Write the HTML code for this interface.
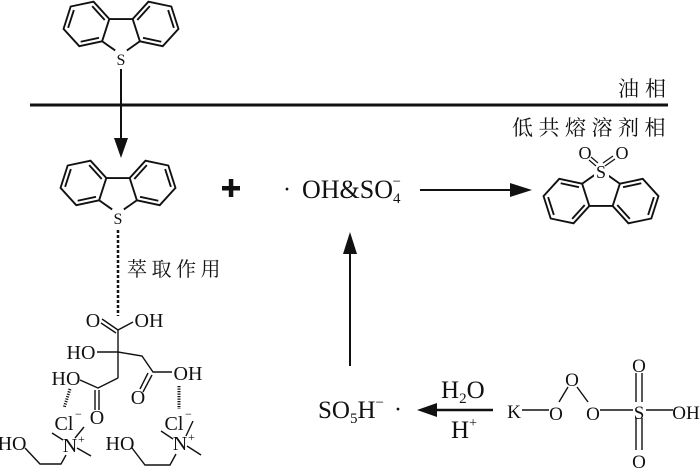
<!DOCTYPE html>
<html><head><meta charset="utf-8"><style>
html,body{margin:0;padding:0;background:#fff;}
svg{display:block;}
.t{font-family:"Liberation Serif",serif;fill:#111;}
.c{font-family:"Noto Serif CJK SC","Noto Sans CJK SC",serif;fill:#111;}
</style></head><body>
<svg width="700" height="469" viewBox="0 0 700 469" xmlns="http://www.w3.org/2000/svg">
<defs>
<g id="dbt" fill="none" stroke="#111" stroke-width="1.45">
  <polyline points="-14.55,-10.57 -4.5,-3.5"/>
  <polyline points="14.55,-10.57 4.5,-3.5"/>
  <line x1="-9" y1="-27.68" x2="9" y2="-27.68"/>
  <polygon points="-9,-27.67 -14.53,-10.55 -32.1,-6.8 -44.2,-20.1 -38.7,-37.3 -21.1,-41"/>
  <line x1="-16.94" y1="-13.22" x2="-31.02" y2="-10.2"/>
  <line x1="-40.68" y1="-20.88" x2="-36.26" y2="-34.58"/>
  <line x1="-22.18" y1="-37.6" x2="-12.52" y2="-26.92"/>
  <polygon points="9,-27.67 14.53,-10.55 32.1,-6.8 44.2,-20.1 38.7,-37.3 21.1,-41"/>
  <line x1="16.94" y1="-13.22" x2="31.02" y2="-10.2"/>
  <line x1="40.68" y1="-20.88" x2="36.26" y2="-34.58"/>
  <line x1="22.18" y1="-37.6" x2="12.52" y2="-26.92"/>
</g>
</defs>

<g transform="translate(121,55) scale(1.3)"><use href="#dbt"/></g>
<text class="t" x="121" y="65" font-size="16" text-anchor="middle">S</text>

<line x1="30" y1="105" x2="668" y2="105" stroke="#111" stroke-width="3"/>
<text class="c" x="618" y="96" font-size="21" letter-spacing="6">油相</text>
<text class="c" x="512" y="135" font-size="21" letter-spacing="5.5">低共熔溶剂相</text>

<line x1="121" y1="69" x2="121" y2="142" stroke="#111" stroke-width="2"/>
<polygon points="114,138 128,138 121,158" fill="#111"/>

<g transform="translate(118,214) scale(1.3)"><use href="#dbt"/></g>
<text class="t" x="118" y="224" font-size="16" text-anchor="middle">S</text>

<line x1="118" y1="230" x2="118" y2="316" stroke="#111" stroke-width="2.5" stroke-dasharray="3,2"/>
<text class="c" x="127" y="276" font-size="20" letter-spacing="4.5">萃取作用</text>

<rect x="222" y="186" width="18" height="4.5" fill="#111"/>
<rect x="228.8" y="179" width="4.5" height="18" fill="#111"/>

<text class="t" x="283" y="197" font-size="24">·</text>
<text class="t" x="302" y="198" font-size="26">OH&amp;SO<tspan font-size="15" dy="5">4</tspan><tspan font-size="15" dx="-8" dy="-17">−</tspan></text>
<line x1="420" y1="190" x2="515" y2="190" stroke="#111" stroke-width="2"/>
<polygon points="510,183 532,190 510,197" fill="#111"/>

<g transform="translate(601,170) scale(1.3,-1.3)"><use href="#dbt"/></g>
<rect x="594" y="162" width="15" height="17" fill="#fff"/>
<text class="t" x="601" y="178" font-size="18" text-anchor="middle">S</text>
<text class="t" x="585" y="159" font-size="18" text-anchor="middle">O</text>
<text class="t" x="622" y="159" font-size="18" text-anchor="middle">O</text>
<g stroke="#111" stroke-width="1.2">
<line x1="589" y1="160" x2="596" y2="166"/>
<line x1="591" y1="157" x2="598" y2="163"/>
<line x1="605" y1="166" x2="615" y2="159"/>
<line x1="603" y1="163" x2="613" y2="156"/>
</g>

<line x1="350" y1="366" x2="350" y2="250" stroke="#111" stroke-width="2"/>
<polygon points="343,254 357,254 350,232" fill="#111"/>

<text class="t" x="318" y="418" font-size="25">SO<tspan font-size="15" dy="5">5</tspan><tspan dy="-5">H</tspan><tspan font-size="15" dy="-11">−</tspan></text>
<text class="t" x="394" y="417" font-size="24">·</text>
<line x1="493" y1="410" x2="432" y2="410" stroke="#111" stroke-width="2.5"/>
<polygon points="437,403 417,410 437,417" fill="#111"/>
<text class="t" x="441" y="398" font-size="25">H<tspan font-size="15" dy="5">2</tspan><tspan dy="-5">O</tspan></text>
<text class="t" x="451" y="438" font-size="25">H<tspan font-size="14" dy="-11">+</tspan></text>

<g class="t" font-size="19" text-anchor="middle">
<text x="514" y="418">K</text>
<text x="556" y="420">O</text>
<text x="572" y="386">O</text>
<text x="593" y="420">O</text>
<text x="639" y="419">S</text>
<text x="686" y="419">OH</text>
<text x="639" y="372">O</text>
<text x="639" y="468">O</text>
</g>
<g stroke="#111" stroke-width="1.4">
<line x1="522" y1="410" x2="549" y2="410"/>
<line x1="559" y1="402" x2="568" y2="387"/>
<line x1="577" y1="387" x2="588" y2="402"/>
<line x1="600" y1="410" x2="633" y2="410"/>
<line x1="646" y1="410" x2="673" y2="410"/>
<line x1="636" y1="373" x2="636" y2="402"/>
<line x1="642" y1="373" x2="642" y2="402"/>
<line x1="636" y1="418" x2="636" y2="450"/>
<line x1="642" y1="418" x2="642" y2="450"/>
</g>

<g class="t" font-size="20" text-anchor="middle">
<text x="93" y="327">O</text>
<text x="149" y="327">OH</text>
<text x="81" y="359">HO</text>
<text x="66" y="385">HO</text>
<text x="97" y="424">O</text>
<text x="188" y="380">OH</text>
<text x="138" y="404">O</text>
<text x="64" y="430">Cl</text>
<text x="174" y="430">Cl</text>
<text x="70" y="452">N</text>
<text x="180" y="450">N</text>
<text x="12" y="450">HO</text>
<text x="120" y="450">HO</text>
</g>
<g class="t" font-size="12">
<text x="75" y="418">−</text>
<text x="185" y="418">−</text>
<text x="78" y="443">+</text>
<text x="188" y="441">+</text>
</g>
<g stroke="#111" stroke-width="1.4" fill="none">
<line x1="118" y1="330" x2="118" y2="378"/>
<line x1="118" y1="330" x2="102" y2="319"/>
<line x1="116" y1="333" x2="101" y2="323"/>
<line x1="118" y1="330" x2="133" y2="322"/>
<line x1="97" y1="352" x2="118" y2="352"/>
<polyline points="118,378 98,388 80,380"/>
<line x1="95" y1="390" x2="95" y2="410"/>
<line x1="99" y1="390" x2="99" y2="410"/>
<polyline points="118,352 142,356 153,372 172,372"/>
<line x1="152" y1="375" x2="143" y2="392"/>
<line x1="148" y1="373" x2="140" y2="389"/>
<line x1="52" y1="433" x2="63" y2="440"/>
<line x1="75" y1="438" x2="84" y2="427"/>
<line x1="77" y1="448" x2="91" y2="456"/>
<polyline points="25,448 40,464 61,464 66,455"/>
<line x1="161" y1="431" x2="173" y2="439"/>
<line x1="186" y1="436" x2="193" y2="421"/>
<line x1="187" y1="446" x2="201" y2="455"/>
<polyline points="132,448 145,465 170,465 176,454"/>
</g>
<line x1="70" y1="389" x2="64" y2="408" stroke="#111" stroke-width="3" stroke-dasharray="1.2,1.3"/>
<line x1="179" y1="386" x2="179" y2="409" stroke="#111" stroke-width="3" stroke-dasharray="1.2,1.3"/>
</svg>
</body></html>
